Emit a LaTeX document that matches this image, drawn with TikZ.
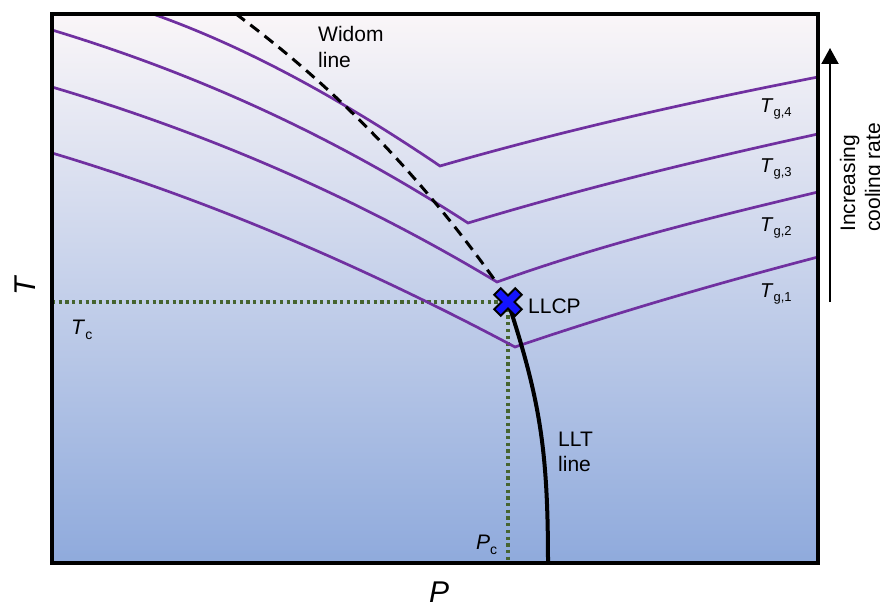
\documentclass[tikz,border=0pt]{standalone}
\usepackage{fontspec}
\setmainfont{Liberation Sans}
\usetikzlibrary{arrows.meta}
\definecolor{curvepurple}{RGB}{112,48,160}
\definecolor{dotgreen}{RGB}{70,100,48}
\definecolor{bgtop}{RGB}{250,246,248}
\definecolor{bgbot}{RGB}{143,170,220}
\definecolor{llcpblue}{RGB}{20,20,255}
\newcommand{\subsc}[3]{\raisebox{-#1}{\fontsize{#2}{#2}\selectfont #3}}
\begin{document}
\begin{tikzpicture}[x=1pt,y=-1pt,
  tgcurve/.style={draw=curvepurple, line width=2.7pt, line join=miter},
  lbl/.style={inner sep=0pt, anchor=base west, font=\fontsize{21}{21}\selectfont},
  tglbl/.style={inner sep=0pt, anchor=base west, font=\fontsize{20}{20}\selectfont},
  critlbl/.style={inner sep=0pt, anchor=base west, font=\fontsize{21}{21}\selectfont},
  axislbl/.style={inner sep=0pt, anchor=base, font=\fontsize{30}{30}\selectfont\itshape},
  dotline/.style={draw=dotgreen, line width=3.3pt, dash pattern=on 3.3pt off 3.4pt}]
\useasboundingbox (0,0) rectangle (880,604);
% background
\shade[top color=bgtop, bottom color=bgbot] (52,14) rectangle (818,563);
\coordinate (llcp) at (508,302);
\coordinate (tcleft) at (52,302);
\coordinate (pcbot) at (506,563);
% dotted critical lines
\draw[dotline] (tcleft) -- (llcp);
\draw[dotline] (llcp) -- (llcp |- pcbot);
% glass transition curves
\draw[tgcurve] (153,14) .. controls (249,48) and (344,101) .. (440,166)
   .. controls (565,130) and (690,102) .. (818,77);
\draw[tgcurve] (52,30) .. controls (191,72) and (329,133) .. (468,223)
   .. controls (584,188) and (699,160) .. (818,134);
\draw[tgcurve] (52,87) .. controls (200,131) and (349,193) .. (497,282)
   .. controls (603,244) and (709,218) .. (818,192);
\draw[tgcurve] (52,153) .. controls (206,199) and (361,265) .. (515,347)
   .. controls (615,313) and (715,284) .. (818,257);
% LLT line
\coordinate (lltbot) at (548,563);
\draw[line width=4pt] (llcp) .. controls (540,400) and (548,450) .. (lltbot);
% Widom line
\coordinate (widomtop) at (236,14);
\coordinate (widomend) at (494,279);
\draw[line width=3pt, dash pattern=on 11pt off 7pt] (widomtop) .. controls (322,78) and (408,159) .. (widomend);
% LLCP marker
\begin{scope}[shift={(llcp)}, rotate=45]
\draw[fill=llcpblue, line width=2pt, line join=miter]
  (4.6,4.6) -- (14.8,4.6) -- (14.8,-4.6) -- (4.6,-4.6) -- (4.6,-14.8) -- (-4.6,-14.8)
  -- (-4.6,-4.6) -- (-14.8,-4.6) -- (-14.8,4.6) -- (-4.6,4.6) -- (-4.6,14.8) -- (4.6,14.8) -- cycle;
\end{scope}
% frame
\draw[line width=3.5pt] (52,14) rectangle (818,563);
% labels
\node[lbl] (widom1) at (318,42) {Widom};
\node[lbl] (widom2) at (318,68) {line};
\node[lbl] (llcplbl) at (528,313) {LLCP};
\node[lbl] (llt1) at (558,446) {LLT};
\node[lbl] (llt2) at (558,471) {line};
\node[tglbl] (tg4) at (760,113) {\textit{T}\subsc{4pt}{13}{g,4}};
\node[tglbl] (tg3) at (760,172) {\textit{T}\subsc{4pt}{13}{g,3}};
\node[tglbl] (tg2) at (760,231) {\textit{T}\subsc{4pt}{13}{g,2}};
\node[tglbl] (tg1) at (760,297) {\textit{T}\subsc{4pt}{13}{g,1}};
\node[critlbl] (tc) at (71,334) {\textit{T}\subsc{5pt}{14}{c}};
\node[critlbl] (pc) at (476,549) {\textit{P}\subsc{5pt}{14}{c}};
\node[axislbl, rotate=90] (taxis) at (35,286) {T};
\node[axislbl] (paxis) at (439,602) {P};
% cooling rate arrow
\coordinate (arrbot) at (830,302);
\coordinate (arrtop) at (830,48);
\draw[line width=2pt, -{Triangle[length=16pt,width=17pt]}] (arrbot) -- (arrtop);
\node[lbl, rotate=90] (inc1) at (855,232) {Increasing};
\node[lbl, rotate=90] (inc2) at (880,232) {cooling rate};
\end{tikzpicture}
\end{document}
